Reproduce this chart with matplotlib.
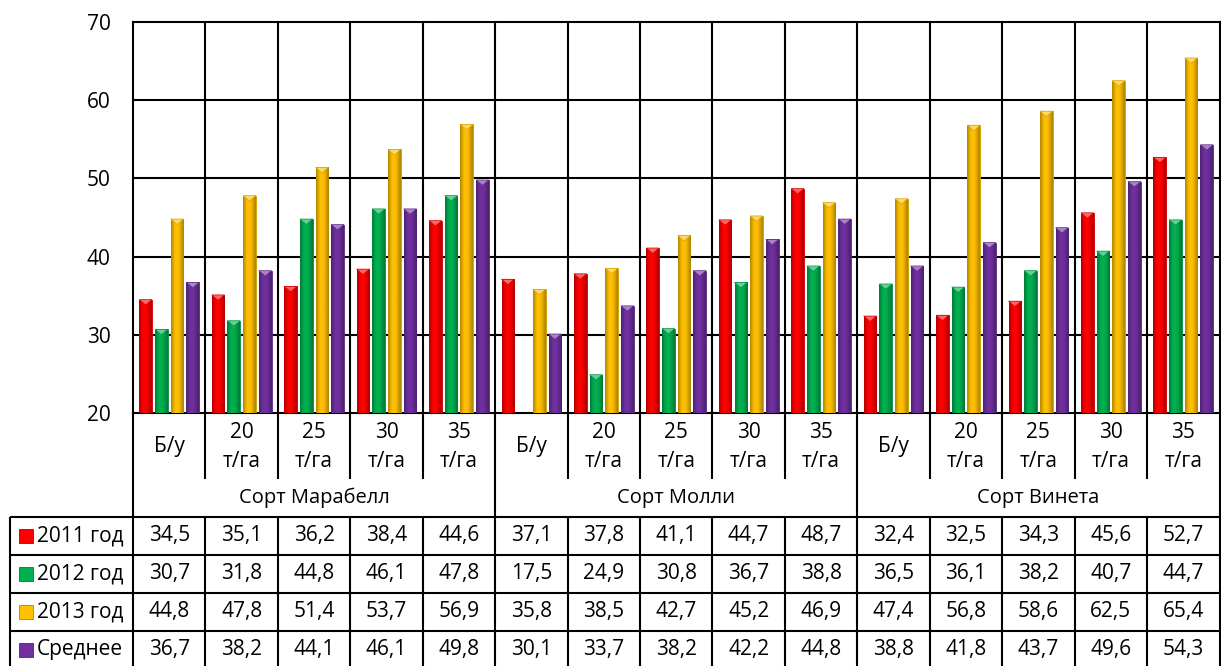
import numpy as np
import matplotlib
matplotlib.use("Agg")
import matplotlib.pyplot as plt
from matplotlib.patches import Polygon, Rectangle
from matplotlib.colors import to_rgb

plt.rcParams['font.family'] = ['Open Sans', 'DejaVu Sans']

# ---------------- data ----------------
groups = ["Сорт Марабелл", "Сорт Молли", "Сорт Винета"]
doses = ["Б/у", "20\nт/га", "25\nт/га", "30\nт/га", "35\nт/га"]
series_names = ["2011 год", "2012 год", "2013 год", "Среднее"]
y2011 = [34.5, 35.1, 36.2, 38.4, 44.6, 37.1, 37.8, 41.1, 44.7, 48.7, 32.4, 32.5, 34.3, 45.6, 52.7]
y2012 = [30.7, 31.8, 44.8, 46.1, 47.8, 17.5, 24.9, 30.8, 36.7, 38.8, 36.5, 36.1, 38.2, 40.7, 44.7]
y2013 = [44.8, 47.8, 51.4, 53.7, 56.9, 35.8, 38.5, 42.7, 45.2, 46.9, 47.4, 56.8, 58.6, 62.5, 65.4]
yavg = [36.7, 38.2, 44.1, 46.1, 49.8, 30.1, 33.7, 38.2, 42.2, 44.8, 38.8, 41.8, 43.7, 49.6, 54.3]
series = [y2011, y2012, y2013, yavg]
colors = ["#FF0000", "#00B050", "#FFC000", "#7030A0"]

# ---------------- layout (pixels) ----------------
W, H = 1221, 666
L, R = 133, 1219.5
T, B = 22, 413
fs = 15

fig = plt.figure(figsize=(W / 100, H / 100), dpi=100)
ax = fig.add_axes([L / W, (H - B) / H, (R - L) / W, (B - T) / H])

n = len(y2011)
x = np.arange(n)
bw = 0.175
step = 0.2165
ymin, ymax = 20, 70


def shade(c, f):
    r = np.array(to_rgb(c))
    if f < 1:
        return tuple(r * f)
    return tuple(r + (1 - r) * (f - 1))


for k, (vals, col) in enumerate(zip(series, colors)):
    bars = ax.bar(x + (k - 1.5) * step, vals, width=bw, color=col,
                  edgecolor=shade(col, 0.8), linewidth=0.6, zorder=3)
    base = np.array(to_rgb(col))
    prof = np.array([0.72, 0.85, 0.97, 1.0, 1.0, 0.97, 0.9, 0.8, 0.7])
    grad = np.array([[base * p for p in prof]])
    for p in bars:
        x0, w, h = p.get_x(), p.get_width(), p.get_height()
        if h <= ymin:
            continue
        im = ax.imshow(grad, extent=[x0, x0 + w, ymin, h], aspect='auto',
                       interpolation='bicubic', zorder=3.1)
        im.set_clip_path(p)
        cap = 0.7
        ax.add_patch(Polygon([[x0, h], [x0 + w, h], [x0 + w / 2, h - cap]],
                             closed=True, facecolor=shade(col, 1.4),
                             edgecolor=shade(col, 0.85), lw=0.5, zorder=3.2))

ax.set_xlim(-0.5, n - 0.5)
ax.set_ylim(ymin, ymax)
ax.set_aspect('auto')
ax.set_yticks(np.arange(20, 71, 10))
ax.set_xticks([])
ax.tick_params(axis='y', length=0, labelsize=fs, pad=16)
for s in ax.spines.values():
    s.set_linewidth(1.5)
    s.set_color('black')
for yv in range(30, 70, 10):
    ax.axhline(yv, color='black', lw=1.5, zorder=1)
for i in range(1, n):
    ax.axvline(i - 0.5, color='black', lw=1.5, zorder=1)

# ---------------- data table ----------------
tax = fig.add_axes([0, 0, 1, (H - B) / H])
tax.set_xlim(0, W)
tax.set_ylim(H, B)
tax.axis('off')
cw = (R - L) / n
lw = 1.5
lk = dict(color='black', lw=lw, solid_capstyle='butt')

cat_bot = 479
grp_bot = 517
row_h = 38
tab_left = 10

# category row
for i in range(n):
    cx = L + (i + 0.5) * cw
    tax.text(cx, 447, doses[i % len(doses)], ha='center', va='center',
             fontsize=fs, linespacing=1.45)
for i in range(1, n):
    xb = L + i * cw
    if i % len(doses) == 0:
        tax.plot([xb, xb], [B, grp_bot], **lk)
    else:
        tax.plot([xb, xb], [B, cat_bot], **lk)
tax.plot([L, L], [B, grp_bot], **lk)
tax.plot([R, R], [B, grp_bot], **lk)
for g, name in enumerate(groups):
    gx = L + (g + 0.5) * len(doses) * cw
    tax.text(gx, 498, name, ha='center', va='center', fontsize=fs - 0.5)

# data rows
nrows = len(series)
ys = [grp_bot + r * row_h for r in range(nrows + 1)]
for yv in ys:
    tax.plot([tab_left, R], [yv, yv], **lk)
for xb in [tab_left, L] + [L + i * cw for i in range(1, n)] + [R]:
    tax.plot([xb, xb], [grp_bot, ys[-1]], **lk)

for r, (name, vals, col) in enumerate(zip(series_names, series, colors)):
    cy = grp_bot + (r + 0.5) * row_h
    tax.add_patch(Rectangle((19, cy - 7), 14, 14, facecolor=col,
                            edgecolor=shade(col, 0.7), lw=0.6))
    tax.text(37, cy, name, ha='left', va='center', fontsize=fs)
    for i, v in enumerate(vals):
        tax.text(L + (i + 0.5) * cw, cy, f"{v:.1f}".replace('.', ','),
                 ha='center', va='center', fontsize=fs)

fig.savefig("out.png", dpi=100)
